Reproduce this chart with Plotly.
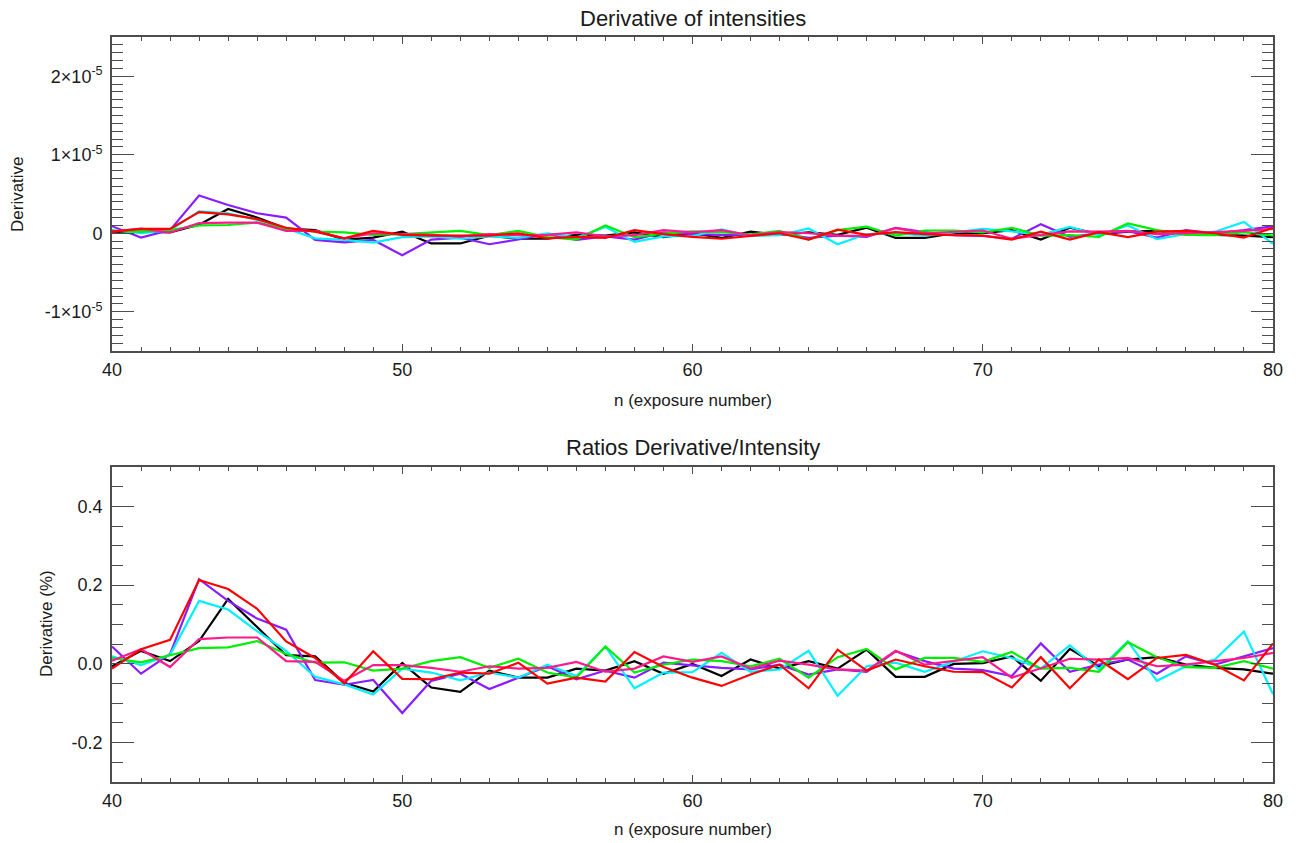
import plotly.graph_objects as go

# Exposure numbers
n = list(range(40, 81))

# Derivative of intensities, in units of 1e-6
deriv_black = [0.1, 0.2, 0.1, 1.1, 3.1, 2.0, 0.6, 0.4, -0.8, -0.55, 0.2, -1.3, -1.3,
               -0.3, -0.7, -0.7, -0.2, -0.3, 0.1, -0.5, 0.0, -0.6, 0.2, -0.2, 0.1, -0.2,
               0.7, -0.6, -0.6, 0.0, 0.0, 0.4, -0.8, 0.7, -0.1, 0.2, 0.3, 0.0, -0.2, -0.3, -0.5]
deriv_purple = [0.9, -0.55, 0.4, 4.8, 3.6, 2.55, 2.0, -0.85, -1.15, -0.85, -2.8, -0.8, -0.55,
                -1.4, -0.8, -0.1, -0.85, -0.4, -0.8, 0.1, -0.1, -0.2, -0.3, 0.0, -0.6, -0.3,
                -0.45, 0.7, 0.15, -0.25, -0.35, -0.7, 1.15, -0.45, 0.0, 0.25, -0.55, 0.4, 0.0, 0.4, 0.9]
deriv_cyan = [0.4, 0.0, 0.4, 2.8, 2.55, 1.7, 0.6, -0.65, -0.85, -1.2, -0.5, -0.4, -0.7,
              -0.4, -0.6, 0.0, -0.55, 0.8, -1.1, -0.4, -0.35, 0.5, -0.35, -0.25, 0.6, -1.4,
              -0.1, 0.05, -0.35, 0.1, 0.55, 0.25, -0.2, 0.8, -0.25, 1.0, -0.75, -0.1, 0.2, 1.45, -1.35]
deriv_green = [0.3, 0.2, 0.4, 1.0, 1.05, 1.35, 0.6, 0.2, 0.1, -0.2, -0.1, 0.1, 0.3,
               -0.25, 0.3, -0.5, -0.8, 1.0, -0.5, -0.05, 0.25, 0.15, -0.15, 0.3, -0.8, 0.4,
               0.85, -0.3, 0.35, 0.35, 0.1, 0.7, -0.3, -0.25, -0.45, 1.25, 0.4, -0.2, -0.25, 0.15, -0.3]
deriv_pink = [0.2, 0.6, 0.1, 1.3, 1.35, 1.35, 0.3, 0.3, -0.65, 0.0, -0.1, -0.2, -0.4,
              -0.1, -0.25, -0.2, 0.1, -0.4, -0.25, 0.4, 0.1, 0.4, -0.25, 0.15, 0.0, -0.3,
              -0.35, 0.65, 0.0, 0.15, 0.35, -0.7, -0.25, 0.25, 0.2, 0.3, -0.1, 0.0, 0.15, 0.3, 0.55]
deriv_red = [0.2, 0.55, 0.55, 2.7, 2.4, 1.8, 0.7, 0.2, -0.65, 0.3, -0.2, -0.3, -0.3,
             -0.3, 0.0, -0.65, -0.45, -0.6, 0.4, -0.1, -0.45, -0.7, -0.35, 0.0, -0.8, 0.45,
             -0.2, 0.15, -0.1, -0.25, -0.3, -0.8, 0.2, -0.8, 0.15, -0.5, 0.2, 0.3, 0.0, -0.55, 0.7]

# Ratio derivative / intensity, in percent
ratio_black = [-0.006, 0.033, 0.007, 0.058, 0.165, 0.094, 0.022, 0.019, -0.048, -0.07, 0.002,
               -0.06, -0.071, -0.017, -0.035, -0.035, -0.012, -0.017, 0.007, -0.025, 0.0,
               -0.031, 0.011, -0.012, 0.007, -0.012, 0.036, -0.033, -0.033, 0.0, 0.002,
               0.019, -0.043, 0.038, -0.006, 0.011, 0.017, -0.002, -0.01, -0.014, -0.025]
ratio_purple = [0.044, -0.025, 0.025, 0.215, 0.16, 0.115, 0.087, -0.041, -0.053, -0.041, -0.125,
                -0.043, -0.025, -0.064, -0.035, -0.006, -0.039, -0.017, -0.035, 0.003, -0.004,
                -0.01, -0.014, -0.002, -0.027, -0.014, -0.02, 0.032, 0.007, -0.012, -0.016,
                -0.031, 0.052, -0.02, -0.002, 0.011, -0.025, 0.019, -0.002, 0.019, 0.04]
ratio_cyan = [0.019, -0.003, 0.023, 0.16, 0.138, 0.083, 0.033, -0.033, -0.052, -0.078, -0.012,
              -0.022, -0.042, -0.022, -0.035, -0.002, -0.031, 0.044, -0.062, -0.022, -0.021,
              0.028, -0.02, -0.014, 0.033, -0.081, -0.006, 0.003, -0.02, 0.007, 0.032,
              0.015, -0.012, 0.047, -0.014, 0.057, -0.043, -0.006, 0.011, 0.082, -0.077]
ratio_green = [0.015, 0.004, 0.022, 0.04, 0.042, 0.058, 0.025, 0.003, 0.004, -0.017, -0.012,
               0.007, 0.017, -0.01, 0.013, -0.022, -0.035, 0.044, -0.022, -0.002, 0.011,
               0.007, -0.006, 0.013, -0.035, 0.017, 0.038, -0.014, 0.015, 0.015, 0.005,
               0.03, -0.012, -0.01, -0.02, 0.055, 0.017, -0.008, -0.01, 0.007, -0.012]
ratio_pink = [0.008, 0.037, -0.008, 0.063, 0.067, 0.067, 0.007, 0.005, -0.043, -0.003, -0.003,
              -0.01, -0.02, -0.006, -0.012, -0.01, 0.005, -0.02, -0.012, 0.019, 0.005,
              0.019, -0.012, 0.008, -0.002, -0.014, -0.017, 0.033, -0.002, 0.007, 0.017,
              -0.035, -0.012, 0.013, 0.011, 0.015, -0.006, -0.002, 0.007, 0.015, 0.028]
ratio_red = [-0.012, 0.037, 0.061, 0.213, 0.19, 0.14, 0.057, 0.015, -0.05, 0.032, -0.038,
             -0.039, -0.022, -0.025, 0.003, -0.05, -0.035, -0.045, 0.03, -0.008, -0.035,
             -0.056, -0.027, -0.002, -0.062, 0.036, -0.017, 0.011, -0.006, -0.02, -0.021,
             -0.06, 0.017, -0.062, 0.011, -0.039, 0.015, 0.023, -0.002, -0.042, 0.052]

colors = {
    "black": "#000000",
    "purple": "#8a1cff",
    "cyan": "#00f0ff",
    "green": "#00ee00",
    "pink": "#ff1a8c",
    "red": "#ff0000",
}

deriv_series = [("black", deriv_black), ("purple", deriv_purple), ("cyan", deriv_cyan),
                ("green", deriv_green), ("pink", deriv_pink), ("red", deriv_red)]
ratio_series = [("black", ratio_black), ("purple", ratio_purple), ("cyan", ratio_cyan),
                ("green", ratio_green), ("pink", ratio_pink), ("red", ratio_red)]

fig = go.Figure()
for key, vals in deriv_series:
    fig.add_trace(go.Scatter(x=n, y=[v * 1e-6 for v in vals], mode="lines",
                             line=dict(color=colors[key], width=2.2),
                             xaxis="x", yaxis="y", showlegend=False, hoverinfo="skip"))
for key, vals in ratio_series:
    fig.add_trace(go.Scatter(x=n, y=vals, mode="lines",
                             line=dict(color=colors[key], width=2.2),
                             xaxis="x2", yaxis="y2", showlegend=False, hoverinfo="skip"))

FONT = "Liberation Sans, Arial, Helvetica, sans-serif"
AX = "#4d4d4d"
TXT = "#1a1a1a"
tickfont = dict(family=FONT, size=18, color=TXT)

x_dom = [112 / 1298, 1273 / 1298]
top_dom = [1 - 351 / 843, 1 - 37 / 843]
bot_dom = [1 - 782 / 843, 1 - 467 / 843]


def xaxis(anchor):
    return dict(domain=x_dom, anchor=anchor, range=[40, 80], automargin=False,
                tickvals=[40, 50, 60, 70, 80], ticktext=["40", "50", "60", "70", "80"],
                ticks="inside", ticklen=7, tickwidth=1.3, tickcolor=AX, ticklabelstandoff=2,
                minor=dict(dtick=1, ticks="inside", ticklen=4, tickwidth=1.2, tickcolor=AX, showgrid=False),
                showline=True, linecolor=AX, linewidth=1.6, mirror="allticks",
                showgrid=False, zeroline=False, tickfont=tickfont)


def yaxis(anchor, dom, rng, vals, texts, minor_dt):
    return dict(domain=dom, anchor=anchor, range=rng, tickvals=vals, ticktext=texts,
                automargin=False, ticklabelstandoff=4,
                ticks="inside", ticklen=22, tickwidth=1.3, tickcolor=AX,
                minor=dict(dtick=minor_dt, tick0=0, ticks="inside", ticklen=11, tickwidth=1.2,
                           tickcolor=AX, showgrid=False),
                showline=True, linecolor=AX, linewidth=1.6, mirror="allticks",
                showgrid=False, zeroline=False, tickfont=tickfont)


fig.update_layout(
    width=1298, height=843,
    margin=dict(l=0, r=0, t=0, b=0),
    paper_bgcolor="white", plot_bgcolor="white",
    font=dict(family=FONT, color=TXT),
    xaxis=xaxis("y"),
    yaxis=yaxis("x", top_dom, [-1.5e-5, 2.5e-5], [-1e-5, 0, 1e-5, 2e-5],
                ["-1×10<sup>-5</sup>", "0", "1×10<sup>-5</sup>", "2×10<sup>-5</sup>"], 1e-6),
    xaxis2=xaxis("y2"),
    yaxis2=yaxis("x2", bot_dom, [-0.3, 0.5], [-0.2, 0.0, 0.2, 0.4],
                 ["-0.2", "0.0", "0.2", "0.4"], 0.05),
)

xc = 0.5 * (x_dom[0] + x_dom[1])
annotations = [
    dict(text="Derivative of intensities", x=xc, y=1 - 18 / 843, font=dict(size=22)),
    dict(text="n (exposure number)", x=xc, y=1 - 400 / 843, font=dict(size=17)),
    dict(text="Derivative", x=17 / 1298, y=1 - 194 / 843, textangle=-90, font=dict(size=17)),
    dict(text="Ratios Derivative/Intensity", x=xc, y=1 - 448 / 843, font=dict(size=22)),
    dict(text="n (exposure number)", x=xc, y=1 - 829 / 843, font=dict(size=17)),
    dict(text="Derivative (%)", x=46 / 1298, y=1 - 624 / 843, textangle=-90, font=dict(size=17)),
]
for a in annotations:
    a.update(xref="paper", yref="paper", showarrow=False, xanchor="center", yanchor="middle")
    a["font"].update(family=FONT, color=TXT)
fig.update_layout(annotations=annotations)

fig.write_html("out.html")
